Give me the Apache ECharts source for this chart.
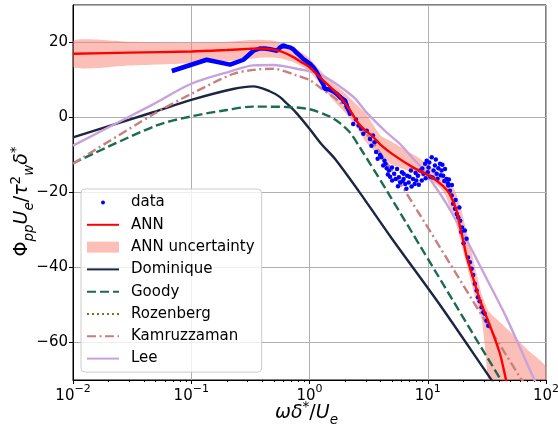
<!DOCTYPE html>
<html>
<head>
<meta charset="utf-8">
<script src="https://cdn.jsdelivr.net/npm/echarts@6/dist/echarts.min.js"></script>
<style>
html,body{margin:0;padding:0;background:#fff;}
#c{width:558px;height:431px;}
</style>
</head>
<body>
<div id="c"></div>
<script>
// ---------- data ----------
const xTickValues = [0.01, 0.1, 1, 10, 100];
const yTickValues = [-60, -40, -20, 0, 20];

const annX = [0.01, 0.03, 0.1, 0.2, 0.3, 0.38, 0.5, 0.6, 0.73, 0.85, 1.0, 1.2, 1.4, 1.7, 1.93, 2.3, 2.67, 3.46, 4.0, 5.1, 7.5, 10.4, 13.5, 15.4, 16.4, 17.6, 18.7, 20, 21.3, 24.3, 27.7, 33.6, 40.8, 46, 50];
const annY = [17.0, 17.3, 17.6, 18.0, 18.3, 18.4, 18.1, 17.4, 16.1, 14.8, 13.4, 11.0, 9.0, 6.5, 4.5, 1.0, -2.1, -5.2, -7.3, -9.9, -13.3, -15.6, -18.3, -20.5, -22.5, -25.0, -29.0, -33.0, -37.0, -43.0, -48.8, -55.5, -63.0, -70.0, -74.0];

const bandX    = [0.01, 0.03, 0.1, 0.2, 0.3, 0.4, 0.5, 0.6, 0.7, 0.8, 1.0, 1.2, 1.5, 2.0, 2.5, 3.0, 4.0, 5.0, 6.0, 7.0, 8.0, 10, 12, 14, 15.4, 17, 18.8, 21, 23.5, 26, 28.5, 30.5, 33, 40, 50, 70, 100];
const bandLow  = [13.4, 13.9, 14.5, 15.0, 15.6, 16.0, 16.0, 15.6, 15.0, 14.2, 12.2, 9.4, 5.5, 1.3, -2.5, -6.5, -10.5, -12.5, -13.5, -14.3, -15.0, -16.5, -18.0, -20.5, -24.0, -27.5, -32.5, -38.5, -44.5, -49.5, -53.5, -61.3, -72, -80, -80, -80, -80];
const bandHigh = [20.5, 20.2, 19.9, 20.2, 20.6, 20.7, 20.5, 19.6, 18.8, 18.0, 15.8, 13.0, 9.8, 6.5, 3.5, 1.0, -4.8, -6.5, -8.0, -9.3, -10.3, -12.5, -14.5, -16.2, -17.5, -19.5, -23.5, -29.5, -36.0, -42.0, -47.0, -49.5, -51.8, -54.3, -57.2, -62.0, -66.6];

const domX = [0.01, 0.0475, 0.1, 0.2255, 0.3346, 0.46, 0.56, 0.64, 0.77, 1.0, 1.27, 1.64, 2.59, 5.0, 12.7, 34.8, 40];
const domY = [-5.3, 1.4, 4.7, 7.6, 8.3, 7.0, 5.5, 3.8, 1.3, -3.0, -7.2, -11.0, -19.5, -32.4, -50.0, -70.1, -72.8];

const goodyX = [0.01, 0.05, 0.1, 0.2, 0.33, 0.64, 1.0, 1.5, 1.81, 2.2, 2.67, 4.5, 11.9, 43.5, 50];
const goodyY = [-12.2, -2.2, 0.3, 2.0, 2.9, 2.8, 2.2, 0.2, -1.5, -4.0, -8.0, -19.5, -41.6, -71.0, -73.7];

const rozX = [];
const rozY = [];

const kamX = [0.01, 0.0475, 0.1, 0.2255, 0.3346, 0.494, 0.78, 1.0, 1.227, 1.81, 2.67, 4.2, 8.6, 60.3, 70];
const kamY = [-12.3, 0.8, 6.3, 11.6, 12.7, 13.0, 11.2, 10.0, 8.0, 4.0, -2.0, -10.6, -26.0, -69.3, -72.0];

const leeX = [0.01, 0.0475, 0.1, 0.2255, 0.3346, 0.494, 0.78, 1.23, 2.33, 3.0, 4.5, 5.8, 7.55, 9.2, 11.9, 14.4, 20, 31.5, 46.5, 80, 90];
const leeY = [-7.5, 3.5, 9.0, 12.5, 13.9, 14.0, 13.0, 11.5, 5.6, 1.5, -4.0, -7.0, -11.0, -14.0, -19.0, -23.0, -31.0, -43.0, -53.5, -70.0, -72.5];

// dense low-frequency part of the measured data
const dataLineX = [0.0685, 0.135, 0.213, 0.276, 0.336, 0.38, 0.42, 0.464, 0.531, 0.56, 0.6, 0.64, 0.684, 0.73, 0.77, 0.83, 0.886, 0.95, 1.01, 1.077, 1.149, 1.22, 1.30, 1.35, 1.40, 1.47, 1.58, 1.70, 1.85, 2.0, 2.1, 2.2];
const dataLineY = [12.4, 15.4, 14.1, 15.4, 17.8, 18.4, 18.4, 18.2, 17.8, 18.6, 19.2, 18.9, 18.7, 18.2, 17.4, 16.5, 15.6, 14.9, 14.3, 13.4, 12.1, 10.5, 9.0, 7.6, 7.2, 7.5, 7.0, 6.3, 5.2, 4.5, 2.5, 1.2];

// scattered high-frequency part of the measured data
const dataPtsX = [1.81, 1.94, 2.07, 2.2, 2.34, 2.47, 2.6, 2.73, 2.85, 3.05, 3.25, 3.34, 3.44, 3.55, 3.66, 3.77, 3.94, 4.05, 4.2, 4.3, 4.4, 4.5, 4.6, 4.7, 4.8, 4.98, 5.0, 5.2, 5.35, 5.5, 5.6, 5.7, 5.85, 6.05, 6.1, 6.25, 6.25, 6.45, 6.6, 6.7, 6.9, 7.0, 7.2, 7.3, 7.5, 7.75, 7.9, 8.0, 8.25, 8.4, 8.6, 8.9, 9.0, 9.2, 9.5, 9.6, 9.8, 10.0, 10.15, 10.3, 10.5, 10.8, 11.0, 11.2, 11.5, 11.7, 11.9, 12.1, 12.3, 12.7, 12.9, 13.1, 13.3, 13.5, 13.8, 14.0, 14.4, 14.8, 14.9, 15.1, 15.4, 15.95, 16.0, 16.4, 17.0, 17.2, 17.6, 18.1, 18.5, 18.8, 19.2, 19.5, 20.1, 20.6, 21.3, 21.9, 22.7, 23.5, 24.2, 25.0, 25.9, 26.6, 27.5, 28.5, 29.5, 30.3, 31.4, 32.5];
const dataPtsY = [5.5, 4.2, 3.0, 1.0, -1.7, -0.5, -2.1, -3.0, -4.3, -3.5, -5.7, -7.5, -4.8, -6.6, -9.2, -11.0, -10.0, -10.6, -12.8, -11.5, -12.3, -13.5, -15.2, -14.1, -15.8, -13.3, -16.8, -15.0, -16.4, -13.7, -18.3, -15.9, -17.3, -14.6, -17.0, -16.4, -15.0, -17.7, -19.0, -15.5, -17.3, -15.8, -14.1, -18.4, -16.4, -17.7, -14.8, -16.8, -15.5, -17.9, -14.1, -16.8, -13.6, -15.0, -12.3, -16.2, -11.5, -14.6, -13.3, -12.0, -15.8, -10.6, -16.0, -14.1, -12.8, -11.2, -15.0, -16.3, -13.5, -12.3, -15.4, -14.1, -12.6, -15.5, -16.9, -13.7, -16.4, -17.5, -18.1, -16.5, -19.5, -20.8, -18.0, -23.0, -24.3, -22.0, -25.7, -26.6, -24.0, -27.5, -30.5, -29.3, -33.5, -30.1, -32.3, -37.3, -38.6, -40.3, -42.0, -44.3, -46.1, -47.9, -49.0, -50.6, -51.9, -52.3, -54.1, -55.5];

// ---------- chart ----------
const FONT = 'DejaVu Sans';
const zip = (a, b) => a.map((v, i) => [v, b[i]]);
const bandColor = 'rgba(250,128,114,0.5)';
const cols = {
  data: '#0000ff', ann: '#ff0000', dom: '#1c2541', goody: '#1d6b4f',
  roz: '#6b7b2b', kam: '#c7807f', lee: '#c8a2dc'
};
const LW = 2.4;
const minus = s => String(s).replace('-', '\u2212');
const NF = 19, SF = 13.5, NLH = 27;
const nameRich = {
  g: {fontFamily: FONT, fontStyle: 'italic', fontSize: NF, color: '#000', lineHeight: NLH, verticalAlign: 'middle'},
  i: {fontFamily: FONT, fontStyle: 'italic', fontSize: NF, color: '#000', lineHeight: NLH, verticalAlign: 'middle'},
  n: {fontFamily: FONT, fontSize: NF, color: '#000', lineHeight: NLH, verticalAlign: 'middle'},
  sup: {fontFamily: FONT, fontSize: SF, color: '#000', lineHeight: SF, verticalAlign: 'top'},
  sub: {fontFamily: FONT, fontStyle: 'italic', fontSize: SF, color: '#000', lineHeight: SF, verticalAlign: 'bottom'}
};

const chart = echarts.init(document.getElementById('c'), null, {renderer: 'canvas'});
const option = {
  animation: false,
  backgroundColor: '#ffffff',
  grid: {left: 73, right: 12, top: 5, bottom: 51, containLabel: false, outerBoundsMode: 'none',
         show: true, borderColor: '#000', borderWidth: 1, backgroundColor: 'transparent'},
  xAxis: {
    type: 'log', logBase: 10, min: 0.01, max: 100,
    name: '{g|ωδ}{sup|*}{n|/}{i|U}{sub|e}',
    nameLocation: 'middle', nameGap: 20, nameMoveOverlap: false,
    nameTextStyle: {rich: nameRich, padding: [0, 6, 0, 0]},
    axisLine: {show: true, onZero: false, lineStyle: {color: '#000', width: 1}},
    axisTick: {show: true, inside: false, length: 4, lineStyle: {color: '#000'}},
    minorTick: {show: true, splitNumber: 9, length: 2, lineStyle: {color: '#000', width: 1}},
    minorSplitLine: {show: false},
    axisLabel: {
      margin: 4,
      formatter: v => '{b|10}{s|' + minus(Math.round(Math.log10(v))) + '}',
      rich: {
        b: {fontFamily: FONT, fontSize: 15, color: '#000', lineHeight: 20, verticalAlign: 'bottom'},
        s: {fontFamily: FONT, fontSize: 11, color: '#000', lineHeight: 11, verticalAlign: 'top'}
      }
    },
    splitLine: {show: true, lineStyle: {color: '#b0b0b0', width: 1}}
  },
  yAxis: {
    type: 'value', min: -70, max: 30, splitNumber: 5,
    name: '{n|Φ}{sub|pp}{i|U}{sub|e}{n|/}{i|τ}{sup|2}{sub|w}{i|δ}{sup|*}',
    nameLocation: 'middle', nameGap: 37, nameRotate: 90, nameMoveOverlap: false,
    nameTextStyle: {rich: nameRich, padding: [0, 18, 0, 0]},
    axisLine: {show: true, onZero: false, lineStyle: {color: '#000', width: 1}},
    axisTick: {show: true, inside: false, length: 4, lineStyle: {color: '#000'}},
    axisLabel: {
      margin: 5, fontFamily: FONT, fontSize: 15, color: '#000',
      showMinLabel: false, showMaxLabel: false,
      formatter: v => (yTickValues.indexOf(v) >= 0 ? minus(v) : '')
    },
    splitLine: {show: true, lineStyle: {color: '#b0b0b0', width: 1}}
  },
  legend: {
    orient: 'vertical', left: 81, top: 189,
    padding: [6, 7, 6, 5], itemWidth: 32, itemHeight: 11, itemGap: 7.3,
    backgroundColor: 'rgba(255,255,255,0.8)', borderColor: '#cccccc', borderWidth: 1, borderRadius: 4,
    itemStyle: {opacity: 0},
    textStyle: {fontFamily: FONT, fontSize: 15, color: '#000', padding: [0, 0, 0, 7]},
    data: [
      {name: 'data', icon: 'path://M0,0M32,11M14,5.5a2,2 0 1,0 4,0a2,2 0 1,0 -4,0', itemStyle: {color: cols.data, opacity: 1}},
      {name: 'ANN'},
      {name: 'ANN uncertainty', icon: 'rect', itemStyle: {color: bandColor, opacity: 1}},
      {name: 'Dominique'},
      {name: 'Goody'},
      {name: 'Rozenberg'},
      {name: 'Kamruzzaman'},
      {name: 'Lee'}
    ]
  },
  series: [
    {
      name: 'ANN uncertainty', type: 'custom', z: 1,
      itemStyle: {color: bandColor},
      data: [[1, 0]],
      renderItem: function (params, api) {
        const pts = [];
        for (let i = 0; i < bandX.length; i++) pts.push(api.coord([bandX[i], bandHigh[i]]));
        for (let i = bandX.length - 1; i >= 0; i--) pts.push(api.coord([bandX[i], bandLow[i]]));
        const cs = params.coordSys;
        return {
          type: 'polygon',
          shape: {points: pts, smooth: 0.2},
          style: {fill: bandColor},
          clipPath: {type: 'rect', shape: {x: cs.x, y: cs.y, width: cs.width, height: cs.height}}
        };
      }
    },
    {name: 'Dominique', type: 'line', data: zip(domX, domY), symbol: 'none', smooth: 0.3, z: 3,
     lineStyle: {color: cols.dom, width: LW}, itemStyle: {color: cols.dom}},
    {name: 'Goody', type: 'line', data: zip(goodyX, goodyY), symbol: 'none', smooth: 0.3, z: 3,
     lineStyle: {color: cols.goody, width: LW, type: [9, 4]}, itemStyle: {color: cols.goody}},
    {name: 'Rozenberg', type: 'line', data: zip(rozX, rozY), symbol: 'none', z: 3,
     lineStyle: {color: cols.roz, width: LW, type: [2, 3]}, itemStyle: {color: cols.roz}},
    {name: 'Kamruzzaman', type: 'line', data: zip(kamX, kamY), symbol: 'none', smooth: 0.3, z: 3,
     lineStyle: {color: cols.kam, width: LW, type: [9, 3.5, 2, 3.5]}, itemStyle: {color: cols.kam}},
    {name: 'Lee', type: 'line', data: zip(leeX, leeY), symbol: 'none', smooth: 0.3, z: 3,
     lineStyle: {color: cols.lee, width: LW}, itemStyle: {color: cols.lee}},
    {name: 'data', type: 'scatter', data: zip(dataPtsX, dataPtsY), symbol: 'circle', symbolSize: 4.5, z: 4,
     itemStyle: {color: cols.data, opacity: 1}},
    {name: 'data', type: 'line', data: zip(dataLineX, dataLineY), symbol: 'none', z: 4,
     lineStyle: {color: cols.data, width: 4.5}, itemStyle: {color: cols.data}},
    {name: 'ANN', type: 'line', data: zip(annX, annY), symbol: 'none', smooth: 0.3, z: 5,
     lineStyle: {color: cols.ann, width: LW}, itemStyle: {color: cols.ann}}
  ]
};
chart.setOption(option);
</script>
</body>
</html>
